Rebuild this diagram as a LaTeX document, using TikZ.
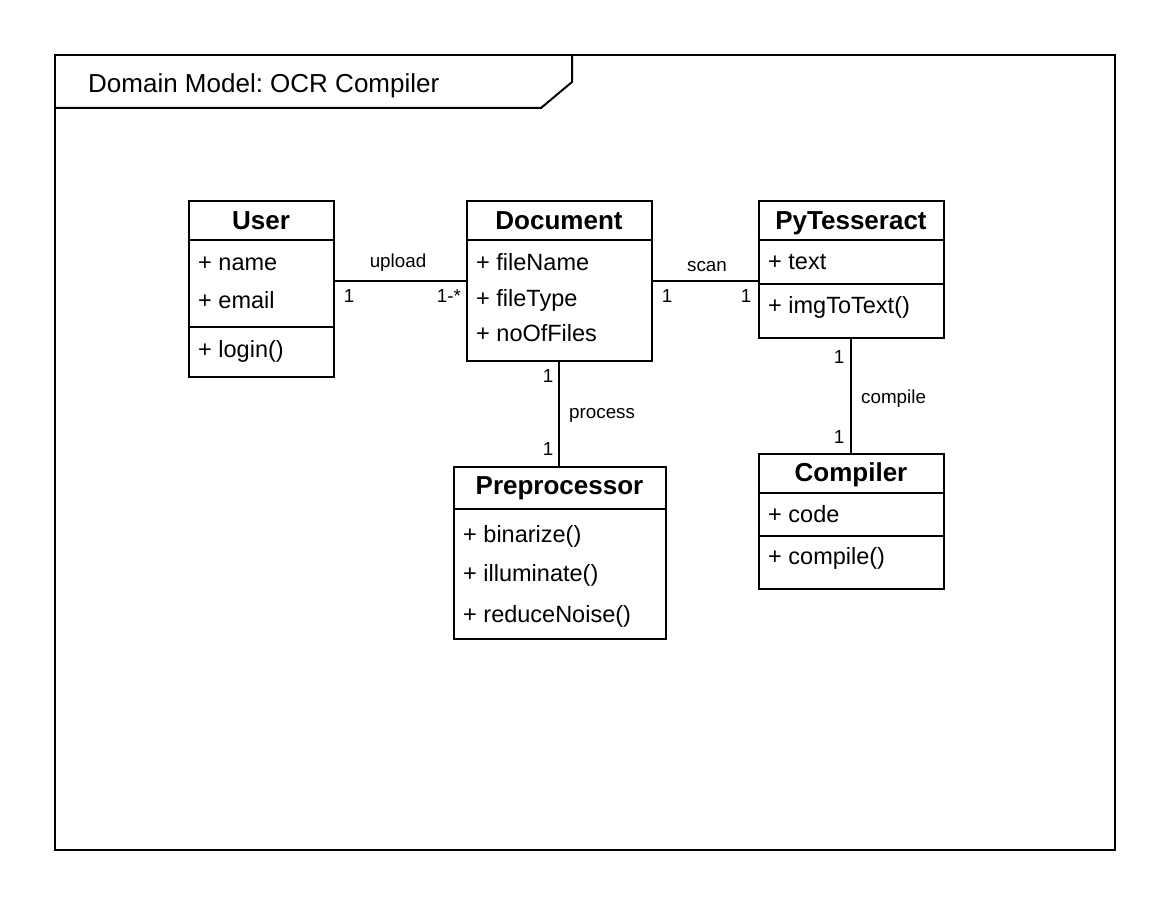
\documentclass[tikz,border=0pt]{standalone}
\usepackage{fontspec}
\setmainfont{Liberation Sans}
\usepackage{tikz}
\definecolor{ink}{RGB}{0,0,0}
\frenchspacing
\tikzset{
  frameline/.style={draw=ink,line width=2pt},
  classbox/.style={draw=ink,line width=2pt,fill=white,anchor=north west,inner sep=0pt},
  classline/.style={draw=ink,line width=2pt},
  classname/.style={anchor=base,font=\bfseries\fontsize{26}{30}\selectfont,text=ink,inner sep=0pt},
  member/.style={anchor=base west,font=\fontsize{23.5}{27}\selectfont,text=ink,inner sep=0pt},
  assoc/.style={draw=ink,line width=2pt},
  role/.style={anchor=base,font=\fontsize{18.8}{22}\selectfont,text=ink,inner sep=0pt}
}
% #1 name, #2 left, #3 top, #4 width, #5 height, #6 title, #7 dividers, #8 members
\newcommand{\umlclass}[8]{%
  \node[classbox,minimum width=#4pt,minimum height=#5pt] (#1) at (#2,#3) {};
  \node[classname] (#1-name) at ([yshift=-29pt]#1.north) {#6};
  \foreach \dy in {#7}{
    \draw[classline] ([yshift=-\dy pt]#1.north west) -- ([yshift=-\dy pt]#1.north east);
  }
  \foreach \dy/\txt [count=\k] in {#8}{
    \node[member] (#1-m\k) at ([xshift=10.5pt,yshift=-\dy pt]#1.north west) {\txt};
  }}

\begin{document}
\begin{tikzpicture}[x=1pt,y=-1pt]
  \useasboundingbox (0,0) rectangle (1166,901);
  % frame and its title tab
  \draw[frameline] (55,55) rectangle (1115,850);
  \draw[frameline] (55,108) -- (541,108) -- (572,82) -- (572,55);
  \node[anchor=base west,font=\fontsize{26}{30}\selectfont,text=ink,inner sep=0pt]
    (frametitle) at (88,93) {Domain Model: OCR Compiler};
  % classes
  \umlclass{user}{187.5}{200.5}{145}{175}{User}{40,126}%
    {70/+ name,108/+ email,157/+ login()}
  \umlclass{document}{465.5}{200.5}{185}{159}{Document}{40}%
    {70/+ fileName,106/+ fileType,141/+ noOfFiles}
  \umlclass{pytesseract}{757.5}{200.5}{185}{136}{PyTesseract}{40,83}%
    {69/+ text,113/+ imgToText()}
  \umlclass{preprocessor}{452.5}{465.5}{212}{172}{Preprocessor}{43}%
    {77/+ binarize(),116/+ illuminate(),157/+ reduceNoise()}
  \umlclass{compiler}{757.5}{452.5}{185}{135}{Compiler}{40,83}%
    {70/+ code,112/+ compile()}
  % associations
  \draw[assoc] (document.west) -- (document.west -| user.east);
  \draw[assoc] (document.east) -- (document.east -| pytesseract.west);
  \draw[assoc] (document.south) -- (document.south |- preprocessor.north);
  \draw[assoc] (pytesseract.south) -- (compiler.north);
  % association names and multiplicities
  \node[role] (upload) at (398,267) {upload};
  \node[role] (upload-a) at (349,302) {1};
  \node[role] (upload-b) at (449,302) {1-*};
  \node[role] (scan) at (707,271) {scan};
  \node[role] (scan-a) at (667,302) {1};
  \node[role] (scan-b) at (746,302) {1};
  \node[role] (process-a) at (548,382) {1};
  \node[role,anchor=base west] (process) at (569,418) {process};
  \node[role] (process-b) at (548,455) {1};
  \node[role] (compile-a) at (839,363) {1};
  \node[role,anchor=base west] (compile) at (861,403) {compile};
  \node[role] (compile-b) at (839,443) {1};
\end{tikzpicture}
\end{document}
